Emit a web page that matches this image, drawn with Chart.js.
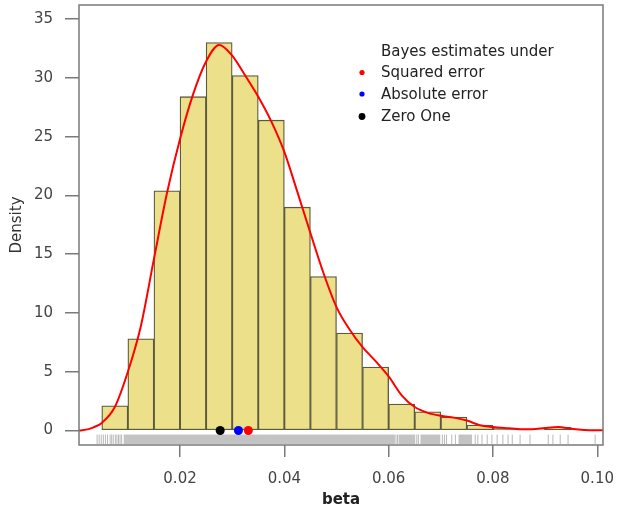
<!DOCTYPE html>
<html>
<head>
<meta charset="utf-8">
<script src="https://cdn.jsdelivr.net/npm/chart.js@4.4.1/dist/chart.umd.min.js"></script>
<style>
  html, body { margin: 0; padding: 0; background: #fff; }
  #wrap { width: 618px; height: 510px; position: relative; }
</style>
</head>
<body>
<div id="wrap"><canvas id="histChart"></canvas></div>
<script>
// histogram of posterior draws of beta (density scale)
const binStarts = [0.005, 0.010, 0.015, 0.020, 0.025, 0.030, 0.035, 0.040, 0.045,
                   0.050, 0.055, 0.060, 0.065, 0.070, 0.075, 0.080, 0.085, 0.090, 0.095];
const binWidth = 0.005;
const histDensity = [2.1, 7.8, 20.4, 28.4, 33.0, 30.2, 26.4, 19.0, 13.1,
                     8.3, 5.4, 2.25, 1.6, 1.15, 0.47, 0.2, 0.13, 0.27, 0.07];

// kernel density estimate
const densX = [0.00063, 0.0025, 0.0034, 0.005, 0.0075, 0.010, 0.0125, 0.015, 0.0175, 0.020,
               0.0225, 0.025, 0.0275, 0.030, 0.0325, 0.035, 0.0375, 0.040, 0.0425, 0.045,
               0.0475, 0.050, 0.0525, 0.055, 0.0575, 0.060, 0.0625, 0.065, 0.0675, 0.070,
               0.0725, 0.075, 0.0775, 0.080, 0.0825, 0.085, 0.0875, 0.090, 0.0925, 0.095,
               0.0975, 0.1011];
const densY = [0.0, 0.12, 0.27, 0.65, 2.0, 5.0, 8.9, 14.6, 20.2, 24.8,
               28.6, 31.4, 32.8, 31.9, 30.2, 28.4, 26.3, 23.7, 20.3, 16.8,
               13.4, 10.5, 8.6, 7.1, 5.9, 4.6, 3.0, 2.0, 1.5, 1.25,
               1.1, 0.85, 0.45, 0.3, 0.2, 0.12, 0.1, 0.22, 0.3, 0.15,
               0.05, 0.02];

// Bayes estimates
const legendTitle = 'Bayes estimates under';
const estimateLabels = ['Squared error', 'Absolute error', 'Zero One'];
const estimateValues = [0.0331, 0.0312, 0.0277];
const estimateColors = ['#ff0000', '#0000ff', '#000000'];

// rug of draws: solid runs and single draws
const rugBands = [[0.0092, 0.0612], [0.0619, 0.0651], [0.0661, 0.0699], [0.0734, 0.0760]];
const rugTicks = [0.0041, 0.0045, 0.0049, 0.0053, 0.0057, 0.0061, 0.0066, 0.0069, 0.0072,
                  0.0076, 0.0079, 0.0082, 0.0085, 0.0088, 0.0614, 0.0617, 0.0654, 0.0657,
                  0.0703, 0.0707, 0.0711, 0.0721, 0.0728, 0.0766, 0.0771, 0.0779, 0.0789,
                  0.0798, 0.0808, 0.0819, 0.0829, 0.0837, 0.0852, 0.0871, 0.0906, 0.0915,
                  0.0929, 0.0944, 0.0996];

const xTicks = [0.02, 0.04, 0.06, 0.08, 0.10];
const yTicks = [0, 5, 10, 15, 20, 25, 30, 35];

const AXIS = '#7a7a7a';
const FONT = 'DejaVu Sans';

Chart.defaults.font.family = FONT;
Chart.defaults.font.size = 15;
Chart.defaults.color = '#444';

const noPad = s => { s.paddingLeft = 0; s.paddingRight = 0; s.paddingTop = 0; s.paddingBottom = 0; };

const rugPlugin = {
  id: 'rug',
  beforeDatasetsDraw(chart) {
    const {ctx, chartArea, scales: {x, y}} = chart;
    const y0 = y.getPixelForValue(0) + 4;
    const y1 = chartArea.bottom - 1;
    ctx.save();
    ctx.fillStyle = '#c3c3c3';
    rugBands.forEach(([a, b]) => {
      const xa = x.getPixelForValue(a), xb = x.getPixelForValue(b);
      ctx.fillRect(xa, y0, xb - xa, y1 - y0);
    });
    ctx.strokeStyle = '#b8b8b8';
    ctx.lineWidth = 1;
    rugTicks.forEach(v => {
      const px = x.getPixelForValue(v);
      ctx.beginPath();
      ctx.moveTo(px, y0);
      ctx.lineTo(px, y1);
      ctx.stroke();
    });
    ctx.restore();
  },
};

const framePlugin = {
  id: 'frame',
  afterDraw(chart) {
    const {ctx, chartArea: a} = chart;
    ctx.save();
    ctx.strokeStyle = AXIS;
    ctx.lineWidth = 1.5;
    ctx.strokeRect(a.left, a.top, a.right - a.left, a.bottom - a.top);

    // legend
    ctx.fillStyle = '#222';
    ctx.font = '15px ' + FONT;
    ctx.textBaseline = 'middle';
    ctx.textAlign = 'left';
    ctx.fillText(legendTitle, 381, 52);
    const rows = [73.5, 95, 117.5];
    const dotR = [2.6, 2.6, 3.4];
    estimateLabels.forEach((lab, i) => {
      ctx.fillStyle = estimateColors[i];
      ctx.beginPath();
      ctx.arc(362, rows[i] - 1, dotR[i], 0, Math.PI * 2);
      ctx.fill();
      ctx.fillStyle = '#222';
      ctx.fillText(lab, 381, rows[i]);
    });
    ctx.restore();
  },
};

new Chart(document.getElementById('histChart'), {
  type: 'bar',
  data: {
    datasets: [
      {
        type: 'scatter',
        data: estimateValues.map(v => ({x: v, y: 0})).reverse(),
        backgroundColor: estimateColors.slice().reverse(),
        borderWidth: 0,
        pointRadius: 4.5,
        order: 0,
      },
      {
        type: 'line',
        data: densX.map((v, i) => ({x: v, y: densY[i]})),
        borderColor: '#ff0000',
        borderWidth: 2,
        pointRadius: 0,
        cubicInterpolationMode: 'monotone',
        fill: false,
        order: 1,
      },
      {
        type: 'bar',
        data: binStarts.map((v, i) => ({x: v + binWidth / 2, y: histDensity[i]})),
        backgroundColor: '#ece08a',
        borderColor: '#5b5a3e',
        borderWidth: 1.3,
        borderSkipped: false,
        barPercentage: 1,
        categoryPercentage: 1,
        order: 2,
      },
    ],
  },
  options: {
    responsive: true, maintainAspectRatio: false, animation: false,
    layout: { padding: { top: 5, right: 15, left: 0, bottom: 0 } },
    plugins: { legend: { display: false }, tooltip: { enabled: false } },
    scales: {
      x: {
        type: 'linear', min: 0.00063, max: 0.1011, offset: false,
        afterFit: s => { s.height = 65; noPad(s); },
        afterBuildTicks: s => { s.ticks = xTicks.map(v => ({value: v})); },
        grid: { offset: false, drawOnChartArea: false, tickLength: 12, color: AXIS, lineWidth: 1.5 },
        border: { display: false },
        ticks: { padding: 13, maxRotation: 0, callback: v => v.toFixed(2) },
        title: { display: true, text: 'beta', font: { weight: 'bold', size: 15 }, color: '#222', padding: { bottom: 1 } },
      },
      y: {
        type: 'linear', min: -1.23, max: 36.2,
        afterFit: s => { s.width = 79; noPad(s); },
        afterBuildTicks: s => { s.ticks = yTicks.map(v => ({value: v})); },
        grid: { drawOnChartArea: false, tickLength: 14, color: AXIS, lineWidth: 1.5 },
        border: { display: false },
        ticks: { padding: 12 },
        title: { display: true, text: 'Density', color: '#333', padding: { top: 8 } },
      },
    },
  },
  plugins: [rugPlugin, framePlugin],
});
</script>
</body>
</html>
